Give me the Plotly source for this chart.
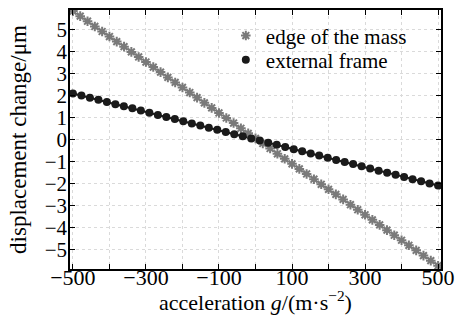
import plotly.graph_objects as go

# edge of the mass (stars)
edge_x = [-500, -480, -460, -440, -420, -400, -380, -360, -340, -320, -300, -280, -260, -240, -220,
          -200, -180, -160, -140, -120, -100, -80, -60, -40, -20, 0, 20, 40, 60, 80, 100, 120, 140,
          160, 180, 200, 220, 240, 260, 280, 300, 320, 340, 360, 380, 400, 420, 440, 460, 480, 500]
edge_y = [5.85, 5.62, 5.39, 5.15, 4.92, 4.69, 4.46, 4.23, 3.99, 3.76, 3.53, 3.30, 3.07, 2.83, 2.60,
          2.37, 2.14, 1.91, 1.67, 1.44, 1.21, 0.98, 0.75, 0.51, 0.28, 0.05, -0.18, -0.41, -0.65, -0.88,
          -1.11, -1.34, -1.57, -1.81, -2.04, -2.27, -2.50, -2.73, -2.97, -3.20, -3.43, -3.66, -3.89,
          -4.13, -4.36, -4.59, -4.82, -5.05, -5.29, -5.52, -5.75]

# external frame (circles)
frame_x = [-500, -476.7, -453.5, -430.2, -407.0, -383.7, -360.5, -337.2, -314.0, -290.7, -267.4,
           -244.2, -220.9, -197.7, -174.4, -151.2, -127.9, -104.7, -81.4, -58.1, -34.9, -11.6,
           11.6, 34.9, 58.1, 81.4, 104.7, 127.9, 151.2, 174.4, 197.7, 220.9, 244.2, 267.4, 290.7,
           314.0, 337.2, 360.5, 383.7, 407.0, 430.2, 453.5, 476.7, 500]
frame_y = [2.10, 2.00, 1.90, 1.81, 1.71, 1.61, 1.51, 1.42, 1.32, 1.22, 1.12, 1.03, 0.93, 0.83, 0.73,
           0.64, 0.54, 0.44, 0.34, 0.24, 0.15, 0.05, -0.05, -0.15, -0.24, -0.34, -0.44, -0.54, -0.64,
           -0.73, -0.83, -0.93, -1.03, -1.12, -1.22, -1.32, -1.42, -1.51, -1.61, -1.71, -1.81, -1.90,
           -2.00, -2.10]

series_names = ["edge of the mass", "external frame"]
x_title = "acceleration <i>g</i>/(m·s<sup>−2</sup>)"
y_title = "displacement change/μm"

FONT = "'Liberation Serif', 'Times New Roman', Times, serif"
GRAY = "#7a7a7a"
BLACK = "#1a1a1a"
GRID = "#dadada"

fig = go.Figure()
# lines (no legend)
fig.add_trace(go.Scatter(x=edge_x, y=edge_y, mode="lines", line=dict(color=GRAY, width=1.5),
                         showlegend=False, hoverinfo="skip"))
fig.add_trace(go.Scatter(x=frame_x, y=frame_y, mode="lines", line=dict(color=BLACK, width=2),
                         showlegend=False, hoverinfo="skip"))
# markers (legend)
fig.add_trace(go.Scatter(x=edge_x, y=edge_y, mode="markers", name=series_names[0], legend="legend",
                         marker=dict(symbol="asterisk-open", size=8, color=GRAY,
                                     line=dict(color=GRAY, width=2))))
fig.add_trace(go.Scatter(x=frame_x, y=frame_y, mode="markers", name=series_names[1], legend="legend2",
                         marker=dict(symbol="circle", size=8, color=BLACK,
                                     line=dict(color=BLACK, width=0))))

axis_common = dict(
    showline=True, linecolor="black", linewidth=1.5, mirror="ticks",
    ticks="inside", ticklen=5, tickwidth=1.2, tickcolor="black",
    showgrid=True, gridcolor=GRID, griddash="dot", gridwidth=1,
    zeroline=False, automargin=False,
)

fig.update_xaxes(
    **axis_common,
    tickfont=dict(family=FONT, size=22, color="black"),
    range=[-508, 508], tick0=-500, dtick=200, ticklabelstandoff=-12,
    minor=dict(dtick=100, tick0=-500, ticks="inside", ticklen=5, tickcolor="black",
               showgrid=True, gridcolor=GRID, griddash="dot"),
)
fig.update_yaxes(
    **axis_common,
    tickfont=dict(family=FONT, size=21, color="black"),
    range=[-5.9, 5.9], tick0=0, dtick=1, ticklabelstandoff=-3,
    title=dict(text=y_title, font=dict(family=FONT, size=23, color="black"), standoff=12),
)

# x-axis title placed just below the tick labels
fig.add_annotation(text=x_title, xref="paper", yref="paper", x=0.5, y=-0.122,
                   xanchor="center", yanchor="middle", showarrow=False,
                   font=dict(family=FONT, size=22, color="black"))

legend_common = dict(xanchor="left", yanchor="middle", bgcolor="rgba(255,255,255,0)",
                     borderwidth=0, font=dict(family=FONT, size=21, color="black"), itemwidth=30)
fig.update_layout(
    width=457, height=320,
    margin=dict(l=70, r=16, t=10, b=51),
    paper_bgcolor="white", plot_bgcolor="white",
    font=dict(family=FONT, color="black"),
    legend=dict(x=0.42, y=0.90, **legend_common),
    legend2=dict(x=0.42, y=0.807, **legend_common),
)

fig.write_html("out.html", config={"displayModeBar": False},
               post_script="document.body.style.margin='0';document.body.style.overflow='hidden';")
